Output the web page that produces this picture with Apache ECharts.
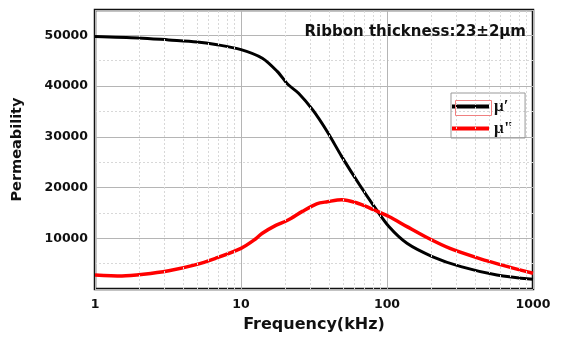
<!DOCTYPE html>
<html><head><meta charset="utf-8">
<script src="https://cdn.jsdelivr.net/npm/echarts@6/dist/echarts.min.js"></script>
<style>html,body{margin:0;padding:0;background:#fff}#c{width:564px;height:338px}</style>
</head><body><div id="c"></div>
<script>
var freqReal = [1, 2, 3.2, 5, 6.7, 10, 14, 17.7, 21, 24.8, 31, 39, 49, 65, 82, 103, 137, 204, 321, 566, 1000];
var muReal   = [49800, 49500, 49100, 48700, 48200, 47200, 45500, 42900, 40300, 38600, 35300, 31000, 26100, 20500, 16200, 12300, 9000, 6400, 4400, 2760, 1900];
var freqImag = [1, 1.53, 2.15, 3.2, 4.77, 6.7, 10, 12.5, 14, 16.7, 21, 26.3, 33, 39, 49, 61.7, 77, 103, 137, 192, 270, 426, 672, 1000];
var muImag   = [2760, 2570, 2900, 3600, 4700, 6050, 8000, 9800, 11000, 12300, 13600, 15300, 16800, 17200, 17600, 17000, 15900, 14300, 12300, 10000, 8000, 6050, 4400, 3100];
var xTicks = [1, 10, 100, 1000];
var xMinor = [2,3,4,5,6,7,8,9,20,30,40,50,60,70,80,90,200,300,400,500,600,700,800,900];
var yTicks = [10000, 20000, 30000, 40000, 50000];
var seriesNames = ['\u03bc\u2032', '\u03bc"'];

function zip(a, b){ return a.map(function(v,i){ return [v, b[i]]; }); }

var chart = echarts.init(document.getElementById('c'), null, {renderer:'canvas'});
var font = 'DejaVu Sans, Verdana, sans-serif';
chart.setOption({
  animation: false,
  title: {
    text: 'Ribbon thickness:23\u00b12\u03bcm',
    right: 33, top: 20,
    textStyle: {fontFamily: font, fontWeight: 'bold', fontSize: 15, color: '#111'}
  },
  grid: {left: 95, right: 31, top: 10, bottom: 49, show: true, borderColor: '#111', borderWidth: 2.5, backgroundColor: 'transparent'},
  legend: {
    orient: 'vertical', left: 451, top: 93,
    itemWidth: 37, itemHeight: 4, itemGap: 5,
    padding: [5, 12, 1, 1],
    borderColor: '#999', borderWidth: 1,
    textStyle: {fontFamily: 'Liberation Serif, Times New Roman, serif', fontSize: 17, fontWeight: 'bold', color: '#111', lineHeight: 16},
    data: seriesNames.map(function(n){ return {name: n, icon: 'rect'}; })
  },
  xAxis: {
    type: 'log', logBase: 10, min: 1, max: 1000,
    name: 'Frequency(kHz)', nameLocation: 'middle', nameGap: 28,
    nameTextStyle: {fontFamily: font, fontWeight: 'bold', fontSize: 16, color: '#111'},
    axisLine: {show: false}, axisTick: {show: false},
    axisLabel: {fontFamily: font, fontWeight: 'bold', fontSize: 12.5, color: '#111', margin: 9,
      formatter: function(v){ return xTicks.indexOf(Math.round(v)) >= 0 ? String(Math.round(v)) : ''; }},
    splitLine: {show: true, lineStyle: {color: '#b5b5b5', width: 1}}
  },
  yAxis: {
    type: 'value', min: 0, max: 55000, interval: 10000,
    name: 'Permeability', nameLocation: 'middle', nameGap: 70,
    nameTextStyle: {fontFamily: font, fontWeight: 'bold', fontSize: 14.5, color: '#111'},
    axisLine: {show: false}, axisTick: {show: false},
    axisLabel: {fontFamily: font, fontWeight: 'bold', fontSize: 12.5, color: '#111', margin: 7,
      formatter: function(v){ return yTicks.indexOf(v) >= 0 ? String(v) : ''; }},
    splitLine: {show: true, lineStyle: {color: '#b5b5b5', width: 1}},
    minorTick: {show: false, splitNumber: 2},
    minorSplitLine: {show: true, lineStyle: {color: '#d8d8d8', type: [2, 2], width: 1}}
  },
  graphic: [{
    type: 'rect', left: 453, top: 98, z: 100,
    shape: {width: 36, height: 15},
    style: {fill: 'none', stroke: '#f08080', lineWidth: 1}
  }],
  series: [
    {name: seriesNames[0], type: 'line', smooth: 0.3, symbol: 'none', data: zip(freqReal, muReal),
     lineStyle: {color: '#000', width: 3}, itemStyle: {color: '#000'}, z: 3,
     markLine: {silent: true, symbol: 'none', label: {show: false},
       lineStyle: {color: '#d8d8d8', type: [2, 2], width: 1},
       data: xMinor.map(function(v){ return {xAxis: v}; })}},
    {name: seriesNames[1], type: 'line', smooth: 0.3, symbol: 'none', data: zip(freqImag, muImag),
     lineStyle: {color: '#ff0000', width: 3.5}, itemStyle: {color: '#ff0000'}, z: 4}
  ]
});
</script></body></html>
